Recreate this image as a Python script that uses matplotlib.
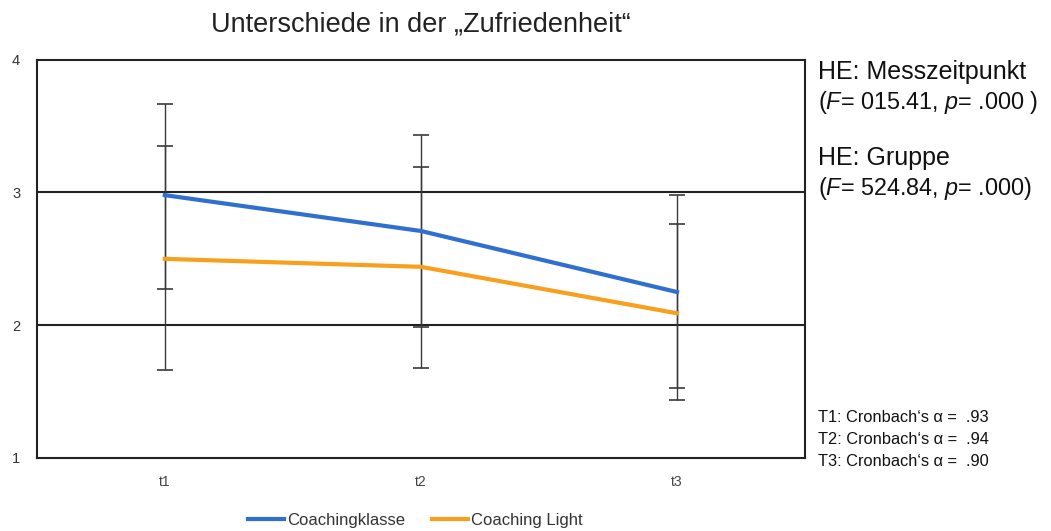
import matplotlib
matplotlib.use("Agg")
import matplotlib.pyplot as plt
import numpy as np

plt.rcParams["font.family"] = ["Liberation Sans", "DejaVu Sans"]
plt.rcParams["mathtext.fontset"] = "custom"
plt.rcParams["mathtext.rm"] = "Liberation Sans"
plt.rcParams["mathtext.it"] = "Liberation Sans:italic"

# means and error-bar ends per measurement point
zeitpunkte = ["t1", "t2", "t3"]
klasse_mean = [2.98, 2.71, 2.25]
klasse_lo = [2.27, 1.99, 1.53]
klasse_hi = [3.67, 3.43, 2.98]
light_mean = [2.50, 2.44, 2.09]
light_lo = [1.66, 1.68, 1.44]
light_hi = [3.35, 3.19, 2.76]

ytick_vals = [1, 2, 3, 4]
effekte = [("HE: Messzeitpunkt", "015.41", ".000 "), ("HE: Gruppe", "524.84", ".000")]
alphas = [("T1", ".93"), ("T2", ".94"), ("T3", ".90")]

C_BLUE, C_ORANGE, C_ERR = "#2f6fd0", "#f8a01e", "#3a3a3a"

fig = plt.figure(figsize=(10.51, 5.31), dpi=100)
ax = fig.add_axes([0.035, 0.1375, 0.731, 0.75])
x = np.arange(len(zeitpunkte))

for m, lo, hi in ((klasse_mean, klasse_lo, klasse_hi), (light_mean, light_lo, light_hi)):
    m, lo, hi = np.array(m), np.array(lo), np.array(hi)
    ax.errorbar(x, m, yerr=[m - lo, hi - m], fmt="none", ecolor=C_ERR,
                elinewidth=1.0, capsize=5.5, capthick=1.2, zorder=2)

ax.plot(x, klasse_mean, color=C_BLUE, lw=3, label="Coachingklasse", zorder=3)
ax.plot(x, light_mean, color=C_ORANGE, lw=3, label="Coaching Light", zorder=3)

for yv in (2, 3):
    ax.axhline(yv, color="#222222", lw=1.5, zorder=1)

ax.set_xlim(-0.5, 2.5)
ax.set_ylim(1, 4)
ax.set_xticks(x)
ax.set_xticklabels(zeitpunkte, color="#444444", fontsize=10)
ax.set_yticks(ytick_vals)
ax.set_yticklabels([str(v) for v in ytick_vals], color="#333333", fontsize=10.5)
ax.tick_params(length=0, pad=12)
ax.tick_params(axis="y", pad=12)
for sp in ax.spines.values():
    sp.set_linewidth(1.5)
    sp.set_color("#222222")

ax.set_title("Unterschiede in der \u201eZufriedenheit\u201c", fontsize=19.5, pad=20,
             color="#222222")

# effect statistics to the right of the plot
ytop = 1 - 72 / 531
for i, (name, f, p) in enumerate(effekte):
    y0 = ytop - i * 0.162
    fig.text(0.778, y0, name, fontsize=18, va="center", color="#111111")
    fig.text(0.778, y0 - 0.057, "(" + r"$\it{F}$" + "= " + f + ", " + r"$\it{p}$" + "= " + p + ")",
             fontsize=16.8, va="center", color="#111111")

for i, (t, a) in enumerate(alphas):
    fig.text(0.778, 1 - (418 + 21.5 * i) / 531, f"{t}: Cronbach\u2018s \u03b1 =  {a}",
             fontsize=11.8, va="center", color="#111111")

fig.legend(loc="center", bbox_to_anchor=(0.395, 1 - 520 / 531), ncol=2, frameon=False,
           fontsize=12, handlelength=2.2, handletextpad=0.15, columnspacing=1.6,
           labelcolor="#333333")

fig.savefig("out.png", dpi=100, facecolor="white")
